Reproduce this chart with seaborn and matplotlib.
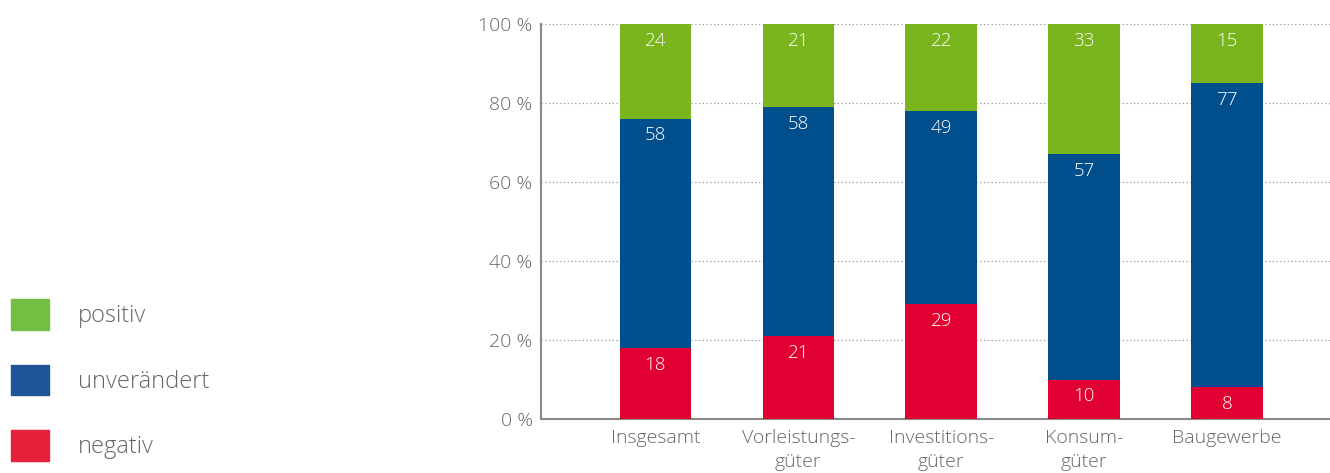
import matplotlib
matplotlib.use("Agg")
import matplotlib.pyplot as plt
import matplotlib.patches as mpatches
import numpy as np
import pandas as pd
import seaborn as sns

kategorien = ["Insgesamt", "Vorleistungs-\ngüter", "Investitions-\ngüter", "Konsum-\ngüter", "Baugewerbe"]
negativ = [18, 21, 29, 10, 8]
unveraendert = [58, 58, 49, 57, 77]
positiv = [24, 21, 22, 33, 15]

farben_balken = {"positiv": "#7AB51D", "unverändert": "#004F8C", "negativ": "#E10032"}
farben_legende = {"positiv": "#72BF44", "unverändert": "#1F5596", "negativ": "#E8203A"}
grau = "#666666"

sns.set_theme(style="white")
plt.rcParams["font.family"] = ["Open Sans", "DejaVu Sans"]
plt.rcParams["font.weight"] = "light"

df = pd.DataFrame({
    "Kategorie": kategorien,
    "negativ": negativ,
    "unverändert": unveraendert,
    "positiv": positiv,
})
df["bis_unv"] = df["negativ"] + df["unverändert"]
df["bis_pos"] = df["bis_unv"] + df["positiv"]

fig = plt.figure(figsize=(13.3, 4.73), dpi=100)
ax = fig.add_axes([541 / 1330, 54 / 473, 1 - 541 / 1330, (419 - 24) / 473])

# gestapelt durch Überlagerung der kumulierten Summen
for spalte, name in [("bis_pos", "positiv"), ("bis_unv", "unverändert"), ("negativ", "negativ")]:
    sns.barplot(data=df, x="Kategorie", y=spalte, color=farben_balken[name],
                width=0.5, saturation=1, linewidth=0, ax=ax, zorder=3)

# Werte in die Segmente schreiben
for i, fila in df.iterrows():
    for oben, wert in [(fila["negativ"], fila["negativ"]),
                       (fila["bis_unv"], fila["unverändert"]),
                       (fila["bis_pos"], fila["positiv"])]:
        ax.annotate(f"{wert:.0f}", xy=(i, oben), xytext=(0, -12), textcoords="offset points",
                    ha="center", va="center", color="white", fontsize=13.5, zorder=4)

ax.set_xlim(-0.8, 4.72)
ax.set_ylim(0, 100)
ax.set_yticks(np.arange(0, 101, 20))
ax.set_yticklabels([f"{v} %" for v in range(0, 101, 20)])
ax.set_xlabel("")
ax.set_ylabel("")
for y in range(20, 101, 20):
    ax.axhline(y, color="#999999", linestyle=(0, (1, 2)), linewidth=0.9, zorder=1)

ax.tick_params(axis="both", length=0, labelsize=14, labelcolor=grau, pad=6)
ax.tick_params(axis="x", pad=7)
for lado in ["top", "right"]:
    ax.spines[lado].set_visible(False)
for lado in ["left", "bottom"]:
    ax.spines[lado].set_color("#888888")
    ax.spines[lado].set_linewidth(1.5)
for etiqueta in ax.get_xticklabels():
    etiqueta.set_linespacing(1.45)

handles = [mpatches.Patch(color=farben_legende[n], label=n) for n in ["positiv", "unverändert", "negativ"]]
fig.legend(handles=handles, loc="lower left", bbox_to_anchor=(11 / 1330, 12 / 473), frameon=False,
           fontsize=17, labelcolor=grau, handlelength=1.62, handleheight=1.62,
           handletextpad=1.2, labelspacing=1.48, borderaxespad=0, borderpad=0)

fig.savefig("out.png", dpi=100)
